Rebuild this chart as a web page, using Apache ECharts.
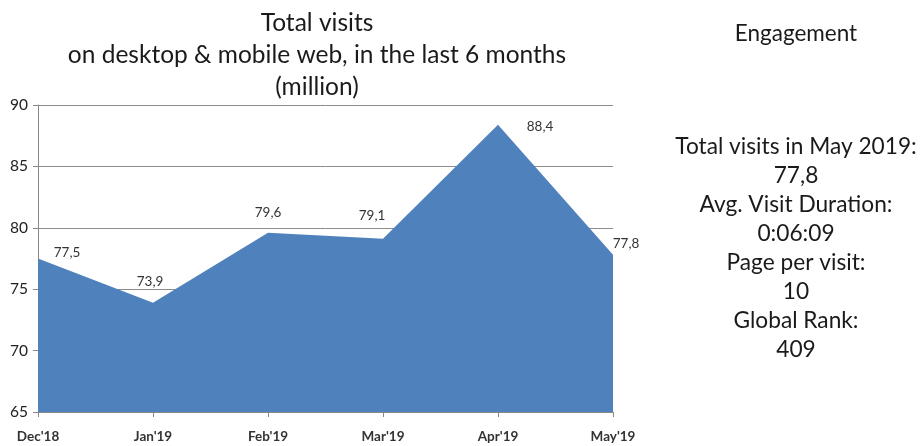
<!DOCTYPE html>
<html>
<head>
<meta charset="utf-8">
<script src="https://cdn.jsdelivr.net/npm/echarts@6/dist/echarts.min.js"></script>
<style>
  html, body { margin: 0; padding: 0; background: #fff; }
  #chart { width: 923px; height: 446px; }
</style>
</head>
<body>
<div id="chart"></div>
<script>
// Monthly total visits (million)
const months = ["Dec'18", "Jan'19", "Feb'19", "Mar'19", "Apr'19", "May'19"];
const visits = [77.5, 73.9, 79.6, 79.1, 88.4, 77.8];
const yTicks = { min: 65, max: 90, step: 5 };

// Engagement summary block
const engagementLines = [
  'Total visits in May 2019:', '77,8',
  'Avg. Visit Duration:', '0:06:09',
  'Page per visit:', '10',
  'Global Rank:', '409'
];

// Value-label nudges from each point, in pixels
const labelOffsets = [[29, -6], [-3, -21], [0, -20], [-11, -23], [42, 2], [13, -11]];

const fmt = v => String(v).replace('.', ',');
const FONT = 'Lato, "Open Sans", sans-serif';

const chart = echarts.init(document.getElementById('chart'), null, { renderer: 'canvas' });

chart.setOption({
  animation: false,
  backgroundColor: '#fff',
  title: [
    {
      text: 'Total visits\non desktop & mobile web, in the last 6 months\n(million)',
      left: 312, top: 2, textAlign: 'center',
      textStyle: { fontFamily: FONT, fontSize: 24.5, fontWeight: 'normal', color: '#1a1a1a', lineHeight: 32 }
    },
    {
      text: 'Engagement',
      left: 791, top: 17, textAlign: 'center',
      textStyle: { fontFamily: FONT, fontSize: 22.5, fontWeight: 'normal', color: '#1a1a1a' }
    },
    {
      text: engagementLines.join('\n'),
      left: 791, top: 127, textAlign: 'center',
      textStyle: { fontFamily: FONT, fontSize: 22.7, fontWeight: 'normal', color: '#1a1a1a', lineHeight: 29, align: 'center' }
    }
  ],
  grid: { left: 38, right: 310, top: 105, bottom: 34 },
  xAxis: {
    type: 'category',
    data: months,
    boundaryGap: false,
    axisLine: { lineStyle: { color: '#888', width: 1 } },
    axisTick: { show: true, length: 5, lineStyle: { color: '#888' } },
    axisLabel: { fontFamily: FONT, fontSize: 13.5, fontWeight: 'bold', color: '#333', margin: 18 },
    splitLine: { show: false }
  },
  yAxis: {
    type: 'value',
    min: yTicks.min, max: yTicks.max, interval: yTicks.step,
    axisLine: { show: true, lineStyle: { color: '#888', width: 1 } },
    axisTick: { show: true, length: 5, lineStyle: { color: '#888' } },
    axisLabel: { fontFamily: FONT, fontSize: 15.5, color: '#222', margin: 10 },
    splitLine: { lineStyle: { color: '#8c8c8c', width: 1 } }
  },
  series: [{
    type: 'line',
    data: visits.map((v, i) => ({
      value: v,
      label: { offset: labelOffsets[i] }
    })),
    symbol: 'circle',
    symbolSize: 1,
    showSymbol: true,
    itemStyle: { color: 'rgba(0,0,0,0)' },
    lineStyle: { width: 0 },
    areaStyle: { color: '#4f81bd', opacity: 1, origin: 'start' },
    z: 3,
    label: {
      show: true,
      position: 'inside',
      align: 'center',
      verticalAlign: 'middle',
      formatter: p => fmt(p.value),
      fontFamily: FONT,
      fontSize: 13.5,
      color: '#333'
    }
  }]
});
</script>
</body>
</html>
